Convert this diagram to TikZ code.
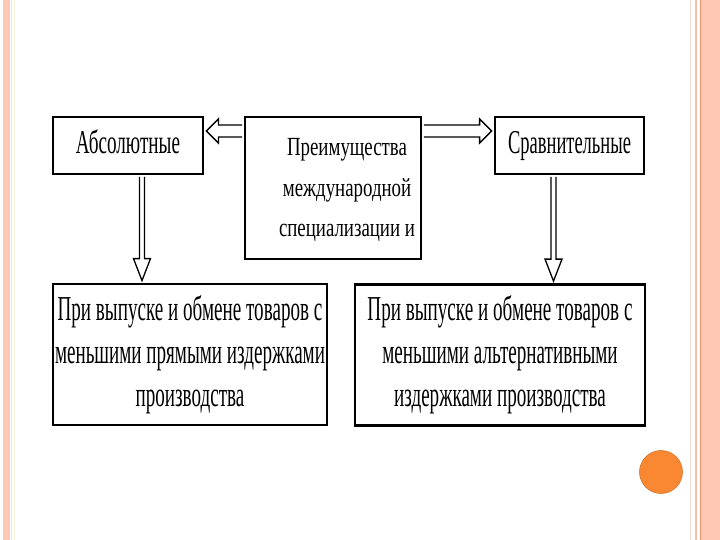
\documentclass[tikz,border=0pt]{standalone}
\usepackage{fontspec}
\setmainfont{Liberation Serif}
\usepackage{graphicx}
\usetikzlibrary{calc}
\definecolor{peach}{RGB}{255,200,180}
\definecolor{stripeA}{RGB}{240,218,205}
\definecolor{stripeB}{RGB}{245,190,165}
\definecolor{stripeC}{RGB}{238,150,110}
\definecolor{stripeD}{RGB}{236,228,245}
\definecolor{stripeE}{RGB}{250,245,220}
\definecolor{dotorange}{RGB}{250,136,50}
\newcommand{\bxt}[4]{\resizebox*{#1pt}{#2pt}{\fontsize{10}{#3}\selectfont\begin{tabular}{@{}c@{}}#4\end{tabular}}}
\begin{document}
\begin{tikzpicture}[x=1pt,y=-1pt,
  box/.style={draw,line width=2.8pt,inner sep=0pt,rectangle},
  arr/.style={draw=black,fill=white,line width=1.3pt,line join=miter}]
\useasboundingbox (0,0) rectangle (720,540);
\fill[white] (0,0) rectangle (720,540);
% decorative stripes
\fill[peach] (3,0) rectangle (9.5,540);
\draw[stripeD,line width=1pt] (11.5,0) -- (11.5,540);
\draw[stripeE,line width=1pt] (14,0) -- (14,540);
\draw[stripeA,line width=1.5pt] (690.5,0) -- (690.5,540);
\draw[stripeB,line width=1.5pt] (696,0) -- (696,540);
\fill[peach] (701,0) rectangle (720,540);
\draw[stripeC,line width=1.5pt] (700.5,0) -- (700.5,540);
% boxes
\node[box,minimum width=150pt,minimum height=57pt] (abs) at (128,145.5)
  {\bxt{104}{40}{12}{Абсолютные}};
\node[box,minimum width=176pt,minimum height=142pt] (ctr) at (333,188)
  {\hspace*{28pt}\bxt{136}{121.5}{15.5}{Преимущества\\международной\\специализации и}};
\node[box,minimum width=149pt,minimum height=57pt] (sra) at (569.5,145.5)
  {\bxt{123}{40}{12}{Сравнительные}};
\node[box,minimum width=274pt,minimum height=141pt] (bl) at (190,354.5)
  {\bxt{270}{129}{12.3}{При выпуске и обмене товаров с\\меньшими прямыми издержками\\производства}};
\node[box,minimum width=290pt,minimum height=141pt] (br) at (500,355)
  {\bxt{265}{129}{12.3}{При выпуске и обмене товаров с\\меньшими альтернативными\\издержками производства}};
% horizontal hollow arrows
\coordinate (hl) at ($(ctr.west)+(-1.4,-57)$);
\coordinate (hlt) at ($(hl -| abs.east)+(2,0)$);
\draw[arr] ($(hl)+(0,-6)$) -- ($(hlt)+(12,-6)$) -- ($(hlt)+(12,-12)$) -- (hlt)
  -- ($(hlt)+(12,12)$) -- ($(hlt)+(12,6)$) -- ($(hl)+(0,6)$);
\coordinate (hr) at ($(ctr.east)+(1.4,-57)$);
\coordinate (hrt) at ($(hr -| sra.west)+(-2,0)$);
\draw[arr] ($(hr)+(0,-6)$) -- ($(hrt)+(-12,-6)$) -- ($(hrt)+(-12,-12)$) -- (hrt)
  -- ($(hrt)+(-12,12)$) -- ($(hrt)+(-12,6)$) -- ($(hr)+(0,6)$);
% vertical hollow arrows
\coordinate (dl) at ($(abs.south)+(14,1.4)$);
\coordinate (dlt) at ($(dl |- bl.north)+(0,-2)$);
\draw[arr] ($(dl)+(-2.5,0)$) -- ($(dlt)+(-2.5,-22)$) -- ($(dlt)+(-8.5,-22)$) -- (dlt)
  -- ($(dlt)+(8.5,-22)$) -- ($(dlt)+(2.5,-22)$) -- ($(dl)+(2.5,0)$);
\coordinate (dr) at ($(sra.south)+(-16,1.4)$);
\coordinate (drt) at ($(dr |- br.north)+(0,-2)$);
\draw[arr] ($(dr)+(-2.5,0)$) -- ($(drt)+(-2.5,-22)$) -- ($(drt)+(-8.5,-22)$) -- (drt)
  -- ($(drt)+(8.5,-22)$) -- ($(drt)+(2.5,-22)$) -- ($(dr)+(2.5,0)$);
% orange dot
\node[circle,fill=dotorange,draw=dotorange!85!black,line width=0.6pt,minimum size=43pt,inner sep=0pt] (dot) at (661,472) {};
\end{tikzpicture}
\end{document}
